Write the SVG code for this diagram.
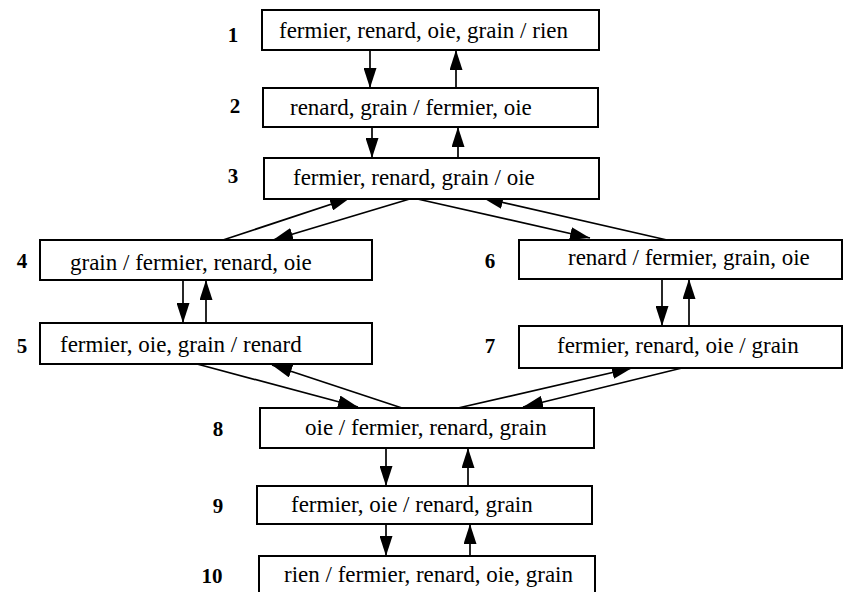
<svg xmlns="http://www.w3.org/2000/svg" width="843" height="592" viewBox="0 0 843 592">
<style>
.box{fill:#fff;stroke:#000;stroke-width:2}
.t{font-family:"Liberation Serif","DejaVu Serif",serif;font-size:23px;fill:#000}
.n{font-family:"Liberation Serif","DejaVu Serif",serif;font-size:21px;font-weight:bold;fill:#000;text-anchor:middle}
.c{stroke:#000;stroke-width:1.7;fill:none;marker-end:url(#ah)}
</style>
<defs>
<marker id="ah" markerUnits="userSpaceOnUse" markerWidth="20" markerHeight="13" refX="20" refY="6.5" orient="auto">
<path d="M0,0 L20,6.5 L0,13 z" fill="#000"/>
</marker>
</defs>
<rect width="843" height="592" fill="#fff"/>
<g id="connectors">
<line class="c" x1="370" y1="50" x2="370" y2="88"/>
<line class="c" x1="456" y1="88" x2="456" y2="50"/>
<line class="c" x1="372" y1="127" x2="372" y2="158"/>
<line class="c" x1="458" y1="158" x2="458" y2="127"/>
<line class="c" x1="223" y1="240" x2="350" y2="198"/>
<line class="c" x1="413" y1="198" x2="273" y2="240"/>
<line class="c" x1="413" y1="198" x2="590" y2="238"/>
<line class="c" x1="667" y1="240" x2="483" y2="198"/>
<line class="c" x1="183" y1="280" x2="183" y2="323"/>
<line class="c" x1="206" y1="323" x2="206" y2="280"/>
<line class="c" x1="662" y1="279" x2="662" y2="326"/>
<line class="c" x1="689" y1="326" x2="689" y2="279"/>
<line class="c" x1="197" y1="364" x2="358" y2="407"/>
<line class="c" x1="402" y1="408" x2="272" y2="365"/>
<line class="c" x1="458" y1="408" x2="632" y2="368"/>
<line class="c" x1="682" y1="368" x2="523" y2="407"/>
<line class="c" x1="386" y1="448" x2="386" y2="486"/>
<line class="c" x1="468" y1="486" x2="468" y2="448"/>
<line class="c" x1="386" y1="524" x2="386" y2="556"/>
<line class="c" x1="470" y1="556" x2="470" y2="524"/>
</g>
<g id="node1"><rect class="box" x="262" y="10" width="337" height="40"/><text class="t" x="279" y="38">fermier, renard, oie, grain / rien</text><text class="n" x="233" y="42">1</text></g>
<g id="node2"><rect class="box" x="263" y="88" width="335" height="39"/><text class="t" x="290" y="115">renard, grain / fermier, oie</text><text class="n" x="235" y="113">2</text></g>
<g id="node3"><rect class="box" x="264" y="158" width="335" height="41"/><text class="t" x="293" y="185">fermier, renard, grain / oie</text><text class="n" x="233" y="183">3</text></g>
<g id="node4"><rect class="box" x="40" y="240" width="332" height="40"/><text class="t" x="70" y="270">grain / fermier, renard, oie</text><text class="n" x="22" y="268">4</text></g>
<g id="node5"><rect class="box" x="40" y="323" width="332" height="41"/><text class="t" x="60" y="352">fermier, oie, grain / renard</text><text class="n" x="22" y="353">5</text></g>
<g id="node6"><rect class="box" x="519" y="240" width="323" height="39"/><text class="t" x="568" y="265">renard / fermier, grain, oie</text><text class="n" x="490" y="268">6</text></g>
<g id="node7"><rect class="box" x="519" y="326" width="323" height="42"/><text class="t" x="557" y="353">fermier, renard, oie / grain</text><text class="n" x="490" y="353">7</text></g>
<g id="node8"><rect class="box" x="260" y="408" width="334" height="40"/><text class="t" x="305" y="435">oie / fermier, renard, grain</text><text class="n" x="218" y="436">8</text></g>
<g id="node9"><rect class="box" x="257" y="486" width="335" height="38"/><text class="t" x="291" y="512">fermier, oie / renard, grain</text><text class="n" x="218" y="513">9</text></g>
<g id="node10"><rect class="box" x="259" y="556" width="336" height="40"/><text class="t" x="284" y="582">rien / fermier, renard, oie, grain</text><text class="n" x="212" y="583">10</text></g>
</svg>
